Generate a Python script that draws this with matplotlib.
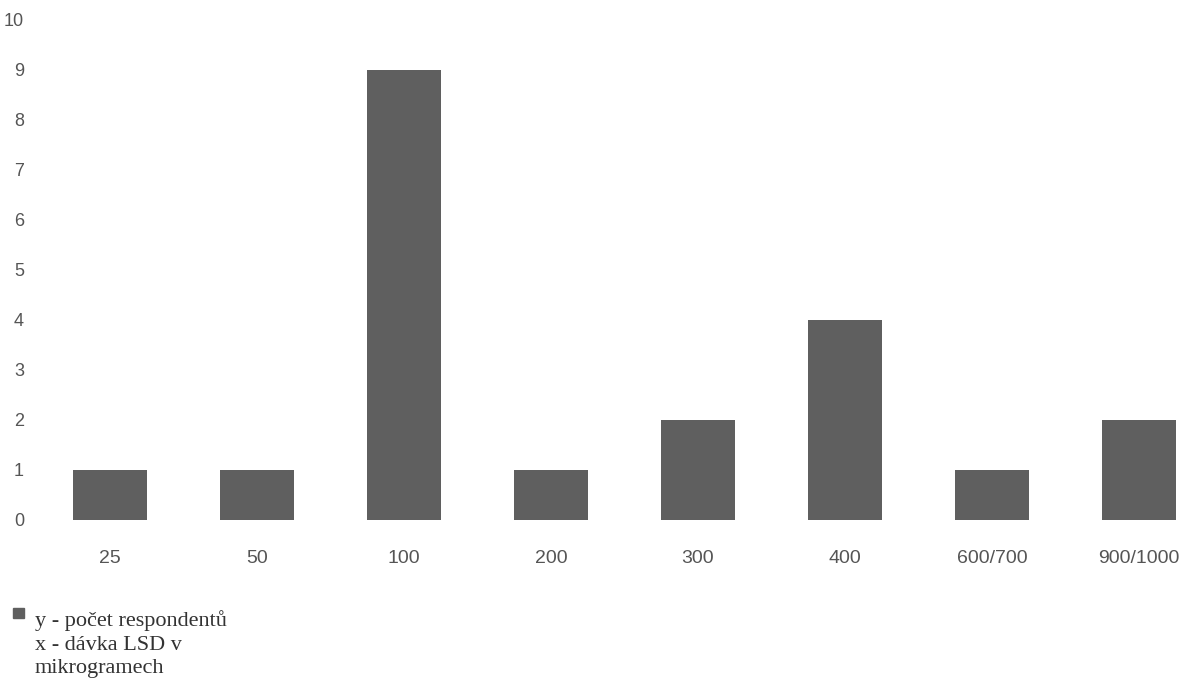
import matplotlib
matplotlib.use("Agg")
import matplotlib.pyplot as plt

# dávka LSD (µg) a počet respondentů
doses = ["25", "50", "100", "200", "300", "400", "600/700", "900/1000"]
counts = [1, 1, 9, 1, 2, 4, 1, 2]
yticks = list(range(0, 11))

fig = plt.figure(figsize=(11.85, 6.88), dpi=100)
# osa: x=0 -> 110 px, krok 147 px; y=0 -> 520 px, y=10 -> 20 px
ax = fig.add_axes([36.5 / 1185, (688 - 521) / 688, (1183 - 36.5) / 1185, 501 / 688])

ax.bar(range(len(doses)), counts, width=0.5, color="#5f5f5f", edgecolor="none")
ax.set_xlim(-0.5, 7.3)
ax.set_ylim(-0.02, 10.0)

ax.set_xticks(range(len(doses)))
ax.set_xticklabels(doses, fontsize=14, color="#555555", family="Liberation Sans")
ax.set_yticks(yticks)
ax.set_yticklabels([str(v) for v in yticks], fontsize=13, color="#555555",
                   family="Liberation Sans")
ax.tick_params(length=0)
ax.tick_params(axis="x", pad=21)
ax.tick_params(axis="y", pad=9)
for s in ax.spines.values():
    s.set_visible(False)

# legenda dole vlevo
fig.patches.append(plt.Rectangle((13 / 1185, (688 - 618) / 688), 11 / 1185, 10 / 688,
                                 transform=fig.transFigure, color="#5f5f5f"))
legend_lines = ["y - počet respondentů", "x - dávka LSD v", "mikrogramech"]
for i, line in enumerate(legend_lines):
    fig.text(35 / 1185, 1 - (621 + 24 * i) / 688, line, fontsize=16,
             family="Liberation Serif", color="#333333", va="center")

fig.savefig("out.png", dpi=100)
